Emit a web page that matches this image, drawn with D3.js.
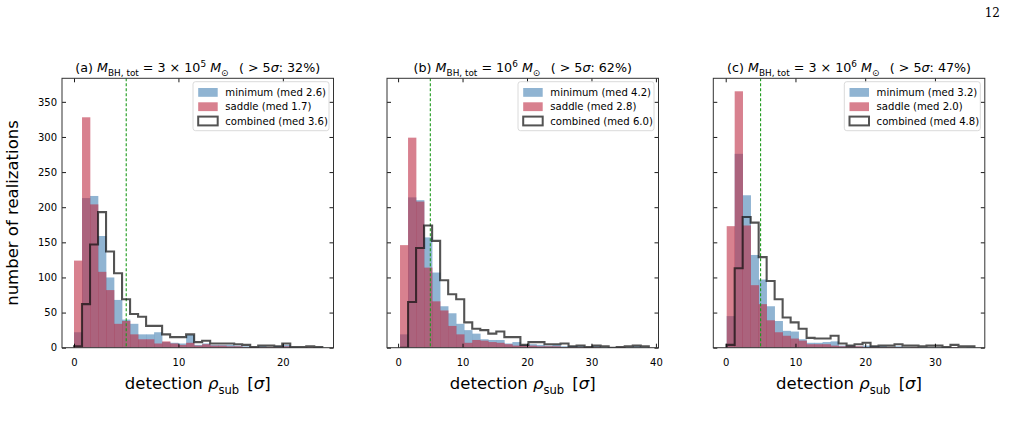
<!DOCTYPE html>
<html>
<head>
<script src="https://cdn.jsdelivr.net/npm/d3@7"></script>
<style>
body { margin: 0; padding: 0; background: #fff; }
svg text { font-family: "DejaVu Sans", sans-serif; fill: #000; }
</style>
</head>
<body>
<div id="viz"></div>
<script>
// counts per bin (31 bins per panel)
var minA = [22, 213, 216, 159, 100, 68, 40, 34, 19, 19, 22, 8, 7, 6, 18, 4, 6, 4, 4, 4, 3, 2, 1, 2, 1, 2, 4, 1, 0, 1, 1];
var sadA = [124, 328, 204, 108, 82, 34, 38, 19, 12, 12, 6, 9, 6, 4, 7, 3, 5, 3, 3, 2, 2, 1, 1, 1, 1, 1, 2, 0, 0, 1, 0];
var comA = [2, 62, 147, 193, 137, 106, 69, 48, 44, 31, 31, 19, 15, 15, 19, 8, 10, 6, 6, 6, 5, 4, 1, 3, 3, 2, 6, 1, 1, 2, 1];

var minB = [19, 214, 210, 157, 107, 59, 49, 34, 25, 20, 12, 11, 11, 6, 8, 4, 5, 4, 3, 4, 2, 2, 2, 1, 2, 1, 1, 1, 1, 2, 1];
var sadB = [146, 299, 208, 114, 66, 53, 31, 19, 7, 11, 10, 8, 7, 5, 3, 3, 3, 2, 2, 2, 1, 1, 1, 1, 1, 0, 0, 1, 0, 0, 0];
var comB = [0, 65, 142, 174, 152, 96, 76, 69, 36, 27, 25, 20, 23, 15, 15, 4, 8, 8, 5, 5, 6, 2, 3, 1, 3, 2, 0, 1, 2, 3, 2];

var minC = [45, 276, 217, 132, 97, 59, 38, 24, 23, 12, 7, 7, 8, 9, 3, 3, 2, 3, 2, 2, 1, 2, 1, 1, 1, 1, 1, 1, 1, 0, 1];
var sadC = [173, 365, 174, 89, 62, 39, 22, 17, 13, 10, 5, 5, 5, 3, 2, 2, 2, 1, 1, 1, 1, 1, 0, 1, 0, 0, 0, 0, 1, 0, 0];
var comC = [4, 113, 186, 178, 129, 95, 69, 43, 36, 27, 14, 13, 13, 17, 6, 3, 5, 7, 2, 3, 3, 5, 3, 3, 2, 3, 3, 1, 4, 2, 2];

// first bin edge and bin width per panel
var binStart = [0.0, 0.3, 0.14];
var binWidth = [0.767, 1.245, 1.146];
var xLims = [[-1.15, 24.85], [-1.72, 40.4], [-1.78, 37.15]];
var xTicks = [[0, 10, 20], [0, 10, 20, 30, 40], [0, 10, 20, 30]];
var yTicks = [0, 50, 100, 150, 200, 250, 300, 350];
var yMax = 383.5;
var threshold = 5;

var titleLetter = ["(a)", "(b)", "(c)"];
var massCoef = ["3 \u00d7 ", "", "3 \u00d7 "];
var massExp = ["5", "6", "6"];
var fracAbove = ["32%", "62%", "47%"];
var medMin = ["2.6", "4.2", "3.2"];
var medSad = ["1.7", "2.8", "2.0"];
var medCom = ["3.6", "6.0", "4.8"];

var counts = [[minA, sadA, comA], [minB, sadB, comB], [minC, sadC, comC]];

var W = 1010, H = 431;
var axLeft = [62, 387, 713.3];
var axW = 271.5;
var axTop = 78.3, axBot = 347.7;

var cMin = "#4682b4", cSad = "#be2d44";

var svg = d3.select("#viz").append("svg")
  .attr("width", W).attr("height", H)
  .attr("viewBox", "0 0 " + W + " " + H);

svg.append("text").attr("x", 1000).attr("y", 17)
  .attr("text-anchor", "end")
  .style("font-family", "'DejaVu Serif', serif")
  .style("font-size", "12px").text("12");

var y = d3.scaleLinear().domain([0, yMax]).range([axBot, axTop]);

// write mixed text: segments with italic / sub / sup
function rich(t, segs, size) {
  var shift = 0;
  segs.forEach(function(s) {
    var target = s.sub ? size * 0.28 : (s.sup ? -size * 0.38 : 0);
    var ts = t.append("tspan").text(s.t)
      .attr("dy", target - shift)
      .style("font-size", (s.sub || s.sup ? size * 0.7 : size) + "px");
    if (s.i) ts.style("font-style", "italic");
    shift = target;
  });
}

counts.forEach(function(c, p) {
  var x = d3.scaleLinear().domain(xLims[p]).range([axLeft[p], axLeft[p] + axW]);
  var g = svg.append("g");
  var clipId = "clip" + p;
  svg.append("clipPath").attr("id", clipId).append("rect")
    .attr("x", axLeft[p]).attr("y", axTop).attr("width", axW).attr("height", axBot - axTop);
  var plot = g.append("g").attr("clip-path", "url(#" + clipId + ")");

  function edge(i) { return binStart[p] + i * binWidth[p]; }

  [[c[0], cMin], [c[1], cSad]].forEach(function(s) {
    plot.append("g").selectAll("rect")
      .data(s[0].map(function(d, i) { return {i: i, v: d}; }).filter(function(d) { return d.v > 0; }))
      .enter().append("rect")
      .attr("x", function(d) { return x(edge(d.i)); })
      .attr("width", function(d) { return x(edge(d.i + 1)) - x(edge(d.i)) + 0.3; })
      .attr("y", function(d) { return y(d.v); })
      .attr("height", function(d) { return y(0) - y(d.v); })
      .attr("fill", s[1]).attr("fill-opacity", 0.6);
  });

  var pts = [[edge(0), 0]];
  c[2].forEach(function(v, i) { pts.push([edge(i), v]); pts.push([edge(i + 1), v]); });
  pts.push([edge(c[2].length), 0]);

  plot.append("line")
    .attr("x1", x(threshold)).attr("x2", x(threshold))
    .attr("y1", axTop).attr("y2", axBot)
    .attr("stroke", "#1a9a1a").attr("stroke-width", 1.1)
    .attr("stroke-dasharray", "3,2");

  plot.append("path")
    .attr("d", d3.line().x(function(d) { return x(d[0]); }).y(function(d) { return y(d[1]); })(pts))
    .attr("fill", "none").attr("stroke", "#111").attr("stroke-opacity", 0.72)
    .attr("stroke-width", 2.1).attr("stroke-linejoin", "miter");

  // axes, ticks pointing in on all four sides
  var ax = g.append("g").style("font-size", "14.5px");
  ax.append("g").attr("transform", "translate(0," + axBot + ")")
    .call(d3.axisBottom(x).tickValues(xTicks[p]).tickSize(-4).tickPadding(11).tickFormat(d3.format("d")));
  ax.append("g").attr("transform", "translate(0," + axTop + ")")
    .call(d3.axisTop(x).tickValues(xTicks[p]).tickSize(-4).tickFormat(""));
  ax.append("g").attr("transform", "translate(" + axLeft[p] + ",0)")
    .call(d3.axisLeft(y).tickValues(yTicks).tickSize(-4).tickPadding(5)
      .tickFormat(p === 0 ? d3.format("d") : ""));
  ax.append("g").attr("transform", "translate(" + (axLeft[p] + axW) + ",0)")
    .call(d3.axisRight(y).tickValues(yTicks).tickSize(-4).tickFormat(""));
  ax.selectAll(".domain").remove();
  ax.selectAll(".tick line").attr("stroke", "#000").attr("stroke-width", 0.9);
  ax.selectAll(".tick text").attr("fill", "#000").style("font-family", "'DejaVu Sans', sans-serif");

  g.append("rect").attr("x", axLeft[p]).attr("y", axTop)
    .attr("width", axW).attr("height", axBot - axTop)
    .attr("fill", "none").attr("stroke", "#333").attr("stroke-width", 1);

  // title
  var tt = g.append("text").attr("x", axLeft[p] + axW / 2).attr("y", 72)
    .attr("text-anchor", "middle");
  rich(tt, [
    {t: titleLetter[p] + " "}, {t: "M", i: 1}, {t: "BH, tot", sub: 1},
    {t: " = " + massCoef[p] + "10"}, {t: massExp[p], sup: 1},
    {t: " "}, {t: "M", i: 1}, {t: "\u2299", sub: 1},
    {t: "\u2002 ( > 5"}, {t: "\u03c3", i: 1}, {t: ": " + fracAbove[p] + ")"}
  ], 12.7);

  // x label
  var xl = g.append("text").attr("x", axLeft[p] + axW / 2).attr("y", 389)
    .attr("text-anchor", "middle");
  rich(xl, [{t: "detection "}, {t: "\u03c1", i: 1}, {t: "sub", sub: 1},
    {t: "\u2002["}, {t: "\u03c3", i: 1}, {t: "]"}], 16.5);

  // legend
  var lg = g.append("g").attr("transform", "translate(" + (axLeft[p] + axW - 140.5) + "," + (axTop + 3.4) + ")");
  lg.append("rect").attr("width", 136).attr("height", 49).attr("rx", 2.5)
    .attr("fill", "#fff").attr("fill-opacity", 0.8)
    .attr("stroke", "#d6d6d6").attr("stroke-width", 0.9);
  var items = [
    {label: "minimum (med " + medMin[p] + ")", fill: cMin, op: 0.6, stroke: "none"},
    {label: "saddle (med " + medSad[p] + ")", fill: cSad, op: 0.6, stroke: "none"},
    {label: "combined (med " + medCom[p] + ")", fill: "#fff", op: 1, stroke: "#111"}
  ];
  items.forEach(function(it, k) {
    var cy = 10.7 + k * 14.3;
    lg.append("rect").attr("x", 5.2).attr("y", cy - 4.4).attr("width", 19.5).attr("height", 8.8)
      .attr("fill", it.fill).attr("fill-opacity", it.op)
      .attr("stroke", it.stroke).attr("stroke-opacity", 0.72).attr("stroke-width", it.stroke === "none" ? 0 : 2);
    lg.append("text").attr("x", 32.3).attr("y", cy + 3.6)
      .style("font-size", "10.1px").text(it.label);
  });
});

// shared y label
svg.append("text")
  .attr("transform", "translate(18," + ((axTop + axBot) / 2) + ") rotate(-90)")
  .attr("text-anchor", "middle").style("font-size", "16.5px")
  .text("number of realizations");
</script>
</body>
</html>
